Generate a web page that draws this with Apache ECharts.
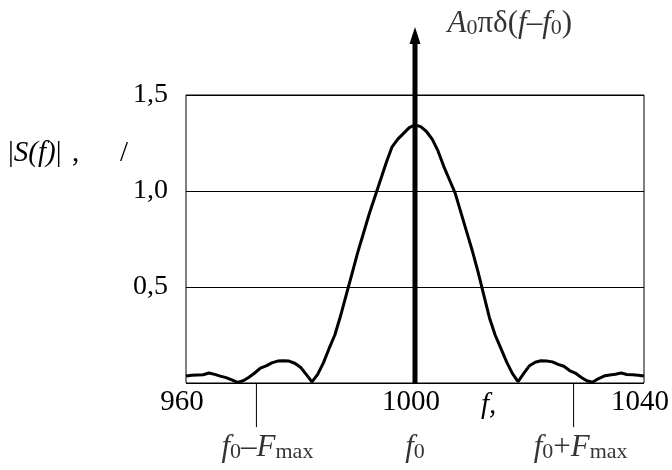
<!DOCTYPE html>
<html>
<head>
<meta charset="utf-8">
<script src="https://cdn.jsdelivr.net/npm/echarts@6/dist/echarts.min.js"></script>
<style>html,body{margin:0;padding:0;background:#fff}#c{width:672px;height:470px}</style>
</head>
<body>
<div id="c"></div>
<script>
// frequency values (Hz)
var freqs = [960,961,962,963,964,965,966,967,968,969,970,971,972,973,974,975,976,977,978,979,
  980,981,982,983,984,985,986,987,988,989,990,991,992,993,994,995,996,997,998,999,
  1000,1001,1002,1003,1004,1005,1006,1007,1008,1009,1010,1011,1012,1013,1014,1015,1016,1017,1018,1019,
  1020,1021,1022,1023,1024,1025,1026,1027,1028,1029,1030,1031,1032,1033,1034,1035,1036,1037,1038,1039,1040];
// |S(f)| values
var mags = [0.036,0.040,0.042,0.043,0.052,0.045,0.036,0.028,0.016,0.003,0.012,0.030,0.052,0.077,0.089,0.105,0.114,0.116,0.114,0.103,
  0.082,0.045,0.006,0.045,0.105,0.18,0.25,0.35,0.46,0.57,0.68,0.78,0.88,0.97,1.06,1.15,1.23,1.27,1.30,1.33,
  1.344,1.335,1.31,1.27,1.21,1.13,1.06,0.99,0.89,0.79,0.69,0.58,0.46,0.34,0.25,0.18,0.11,0.05,0.007,0.05,
  0.09,0.108,0.116,0.115,0.11,0.097,0.087,0.065,0.052,0.03,0.012,0.004,0.022,0.036,0.042,0.046,0.052,0.044,0.043,0.040,0.036];
var xTicks = [960, 1000, 1040];
var yTicks = ['', '0,5', '1,0', '1,5'];
var f0 = 1000;
var deltaTop = 1.81;          // arrow (delta function) height in plot units
var fLow = 972.3, fHigh = 1027.7; // f0 - Fmax, f0 + Fmax
var markDepth = -0.23;

var FONT = 'Liberation Serif';
var chart = echarts.init(document.getElementById('c'), null, {renderer: 'canvas'});

var subRich = {
  n: {fontFamily: FONT, fontSize: 31, color: '#000', lineHeight: 36, verticalAlign: 'bottom'},
  i: {fontFamily: FONT, fontSize: 31, fontStyle: 'italic', color: '#000', lineHeight: 36, verticalAlign: 'bottom'},
  s: {fontFamily: FONT, fontSize: 22, color: '#000', lineHeight: 30, verticalAlign: 'bottom'}
};

function markLabel(txt, dx) {
  return {show: true, position: 'bottom', distance: 0, offset: [dx, 0], formatter: txt, rich: subRich};
}

chart.setOption({
  animation: false,
  grid: {left: 186, right: 26, top: 95, bottom: 87, show: true, borderColor: '#000', borderWidth: 1},
  xAxis: {
    type: 'value', min: 960, max: 1040, interval: 40,
    axisLine: {show: false}, axisTick: {show: false}, splitLine: {show: false},
    axisLabel: {fontFamily: FONT, fontSize: 29, color: '#000', margin: 5, padding: [0, 8, 0, 0],
      formatter: function (v) { return xTicks.indexOf(v) >= 0 ? String(v) : ''; }}
  },
  yAxis: {
    type: 'value', min: 0, max: 1.5, interval: 0.5,
    axisLine: {show: false}, axisTick: {show: false},
    splitLine: {show: true, lineStyle: {color: '#000', width: 1}},
    axisLabel: {fontFamily: FONT, fontSize: 28, color: '#000', margin: 18,
      formatter: function (v) { return yTicks[Math.round(v / 0.5)] || ''; }}
  },
  series: [
    {
      type: 'line', data: freqs.map(function (f, i) { return [f, mags[i]]; }),
      showSymbol: false, smooth: false, z: 3,
      lineStyle: {color: '#000', width: 3}
    },
    {
      type: 'line', clip: false, z: 5, showSymbol: true,
      data: [{value: [f0, 0], symbol: 'none'},
             {value: [f0, deltaTop], symbol: 'triangle', symbolSize: [11, 17]}],
      itemStyle: {color: '#000'},
      lineStyle: {color: '#000', width: 5}
    },
    {
      type: 'line', clip: false, z: 4, showSymbol: false,
      data: [[fLow, 0], [fLow, markDepth]],
      lineStyle: {color: '#000', width: 1}
    },
    {
      type: 'line', clip: false, z: 4, showSymbol: false,
      data: [[fHigh, 0], [fHigh, markDepth]],
      lineStyle: {color: '#000', width: 1}
    },
    {
      type: 'scatter', clip: false, z: 4, symbolSize: 1,
      itemStyle: {color: 'rgba(0,0,0,0)'},
      data: [
        {value: [fLow, markDepth], label: markLabel('{i|f}{s|0}{n|–}{i|F}{s|max}', 11)},
        {value: [f0, markDepth], label: markLabel('{i|f}{s|0}', 0)},
        {value: [fHigh, markDepth], label: markLabel('{i|f}{s|0}{n|+}{i|F}{s|max}', 7)},
        {value: [f0, 1.885], label: {show: true, position: 'right', distance: 32,
          formatter: '{i|A}{s|0}{n|πδ(}{i|f}{n|–}{i|f}{s|0}{n|)}', rich: subRich}}
      ]
    }
  ],
  graphic: [
    {type: 'text', left: 8, top: 139, style: {
      text: '{n||}{i|S(f)}{n||}',
      rich: {
        n: {fontFamily: FONT, fontSize: 29, fill: '#000'},
        i: {fontFamily: FONT, fontSize: 29, fontStyle: 'italic', fill: '#000'}
      }}},
    {type: 'text', left: 72, top: 139, style: {
      text: ',', fontFamily: FONT, fontSize: 29, fill: '#000'}},
    {type: 'text', left: 120, top: 139, style: {
      text: '/', fontFamily: FONT, fontSize: 29, fill: '#000'}},
    {type: 'text', left: 481, top: 391, style: {
      text: 'f,', fontFamily: FONT, fontSize: 29, fontStyle: 'italic', fill: '#000'}}
  ]
});
</script>
</body>
</html>
